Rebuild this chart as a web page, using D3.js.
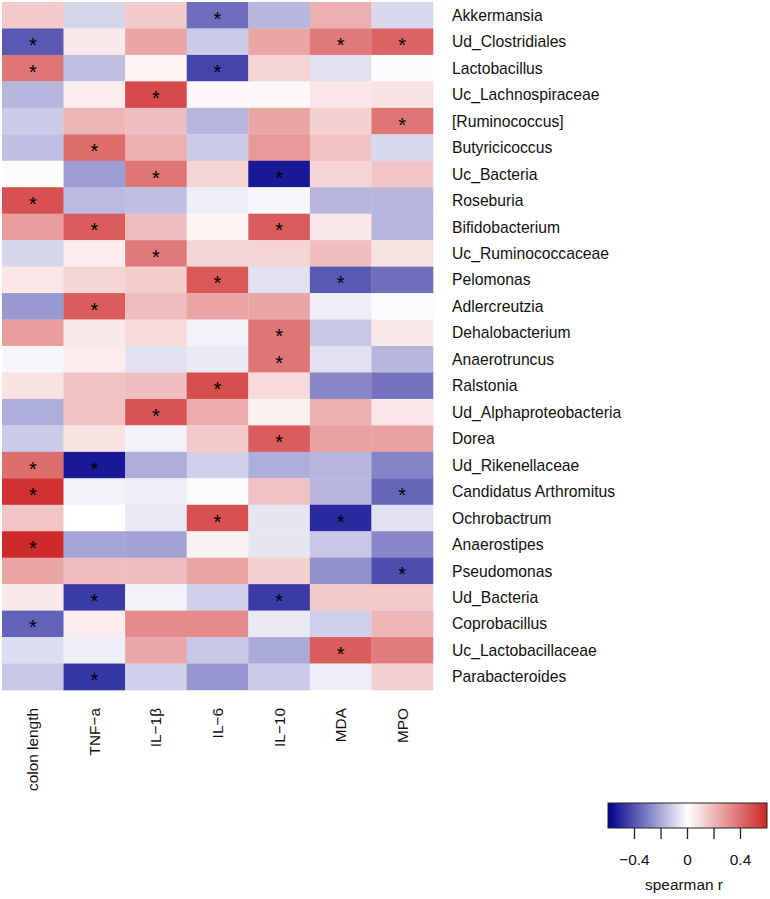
<!DOCTYPE html>
<html>
<head>
<meta charset="utf-8">
<script src="https://cdn.jsdelivr.net/npm/d3@7"></script>
<style>
  html, body { margin: 0; padding: 0; background: #fff; }
  svg { display: block; font-family: "Liberation Sans", Arial, Helvetica, sans-serif; }
</style>
</head>
<body>
<svg id="chart" width="770" height="899"></svg>
<script>
// ---------------- data ----------------
const taxa = ["Akkermansia","Ud_Clostridiales","Lactobacillus","Uc_Lachnospiraceae","[Ruminococcus]",
  "Butyricicoccus","Uc_Bacteria","Roseburia","Bifidobacterium","Uc_Ruminococcaceae","Pelomonas",
  "Adlercreutzia","Dehalobacterium","Anaerotruncus","Ralstonia","Ud_Alphaproteobacteria","Dorea",
  "Ud_Rikenellaceae","Candidatus Arthromitus","Ochrobactrum","Anaerostipes","Pseudomonas",
  "Ud_Bacteria","Coprobacillus","Uc_Lactobacillaceae","Parabacteroides"];
const indices = ["colon length","TNF\u2212a","IL\u22121\u03b2","IL\u22126","IL\u221210","MDA","MPO"];

// spearman r, one array per index (rows in taxa order)
const colonLength = [0.15,-0.39,0.38,-0.17,-0.12,-0.15,0.01,0.48,0.27,-0.10,0.07,-0.24,0.27,-0.02,0.08,-0.19,-0.12,0.40,0.57,0.16,0.59,0.25,0.06,-0.37,-0.08,-0.13];
const tnfA        = [-0.10,0.06,-0.15,0.05,0.20,0.40,-0.23,-0.16,0.45,0.05,0.12,0.45,0.06,0.05,0.17,0.17,0.08,-0.54,-0.03,0.00,-0.21,0.18,-0.46,0.05,-0.04,-0.47];
const il1b        = [0.15,0.25,0.03,0.50,0.18,0.22,0.38,-0.15,0.18,0.37,0.14,0.18,0.10,-0.07,0.18,0.47,-0.03,-0.19,-0.04,-0.05,-0.22,0.18,-0.03,0.32,0.24,-0.11];
const il6         = [-0.34,-0.12,-0.44,0.02,-0.17,-0.12,0.12,-0.04,0.03,0.12,0.46,0.25,-0.03,-0.05,0.49,0.23,0.15,-0.11,-0.01,0.48,0.04,0.25,-0.11,0.32,-0.13,-0.25];
const il10        = [-0.17,0.25,0.12,0.02,0.25,0.28,-0.54,-0.02,0.45,0.12,-0.07,0.25,0.38,0.38,0.10,0.04,0.45,-0.19,0.17,-0.06,-0.06,0.13,-0.46,-0.05,-0.20,-0.12];
const mda         = [0.22,0.37,-0.07,0.07,0.13,0.17,0.12,-0.17,0.06,0.18,-0.39,-0.04,-0.13,-0.07,-0.28,0.22,0.26,-0.17,-0.17,-0.50,-0.13,-0.26,0.15,-0.11,0.45,-0.04];
const mpo         = [-0.09,0.43,0.01,0.08,0.38,-0.09,0.16,-0.17,-0.17,0.08,-0.34,-0.01,0.06,-0.17,-0.33,0.07,0.26,-0.29,-0.36,-0.07,-0.28,-0.42,0.15,0.20,0.36,0.13];

// significance (1 = *), one array per index
const sigColon = [0,1,1,0,0,0,0,1,0,0,0,0,0,0,0,0,0,1,1,0,1,0,0,1,0,0];
const sigTnf   = [0,0,0,0,0,1,0,0,1,0,0,1,0,0,0,0,0,1,0,0,0,0,1,0,0,1];
const sigIl1b  = [0,0,0,1,0,0,1,0,0,1,0,0,0,0,0,1,0,0,0,0,0,0,0,0,0,0];
const sigIl6   = [1,0,1,0,0,0,0,0,0,0,1,0,0,0,1,0,0,0,0,1,0,0,0,0,0,0];
const sigIl10  = [0,0,0,0,0,0,1,0,1,0,0,0,1,1,0,0,1,0,0,0,0,0,1,0,0,0];
const sigMda   = [0,1,0,0,0,0,0,0,0,0,1,0,0,0,0,0,0,0,0,1,0,0,0,0,1,0];
const sigMpo   = [0,1,0,0,1,0,0,0,0,0,0,0,0,0,0,0,0,0,1,0,0,1,0,0,0,0];

const legendTicks = [-0.4,-0.2,0,0.2,0.4];
const legendLabels = ["\u22120.4","","0","","0.4"];
const legendTitle = "spearman r";

// ---------------- build ----------------
const seriesVals = [colonLength,tnfA,il1b,il6,il10,mda,mpo];
const seriesSig = [sigColon,sigTnf,sigIl1b,sigIl6,sigIl10,sigMda,sigMpo];
const cells = [];
indices.forEach((ind, j) => taxa.forEach((t, i) => cells.push({t, ind, v: seriesVals[j][i], s: seriesSig[j][i]})));

const svg = d3.select("#chart");
const gLeft = 2, gRight = 433, gTop = 2, gBottom = 690;
const x = d3.scaleBand().domain(indices).range([gLeft, gRight]);
const y = d3.scaleBand().domain(taxa).range([gTop, gBottom]);
const color = d3.scaleLinear().domain([-0.6, 0, 0.6]).range(["#00008B", "#FFFFFF", "#CD2626"]).clamp(true);

svg.append("g").selectAll("rect").data(cells).join("rect")
  .attr("x", d => x(d.ind)).attr("y", d => y(d.t))
  .attr("width", x.bandwidth() + 0.3).attr("height", y.bandwidth() + 0.3)
  .attr("fill", d => color(d.v));

svg.append("g").selectAll("text").data(cells.filter(d => d.s)).join("text")
  .attr("x", d => x(d.ind) + x.bandwidth() / 2)
  .attr("y", d => y(d.t) + y.bandwidth() / 2 + 10.5)
  .attr("text-anchor", "middle").attr("font-size", 20).attr("fill", "#000")
  .text("*");

// row labels
svg.append("g").selectAll("text").data(taxa).join("text")
  .attr("x", 452).attr("y", d => y(d) + y.bandwidth() / 2)
  .attr("dy", "0.36em").attr("font-size", 15.7).attr("fill", "#111")
  .text(d => d);

// column labels
svg.append("g").selectAll("text").data(indices).join("text")
  .attr("transform", d => `translate(${x(d) + x.bandwidth() / 2 + 5.5},708) rotate(-90)`)
  .attr("text-anchor", "end").attr("font-size", 15.4).attr("fill", "#111")
  .text(d => d);

// legend
const lx = d3.scaleLinear().domain([-0.6, 0.6]).range([608, 767]);
const defs = svg.append("defs");
const grad = defs.append("linearGradient").attr("id", "lg").attr("x1", "0%").attr("x2", "100%");
d3.range(0, 1.0001, 0.05).forEach(p => {
  grad.append("stop").attr("offset", (p * 100) + "%").attr("stop-color", color(-0.6 + 1.2 * p));
});
svg.append("rect").attr("x", lx(-0.6)).attr("y", 803).attr("width", lx(0.6) - lx(-0.6)).attr("height", 25)
  .attr("fill", "url(#lg)").attr("stroke", "#222").attr("stroke-width", 1);
const lg = svg.append("g");
lg.selectAll("line").data(legendTicks).join("line")
  .attr("x1", d => lx(d)).attr("x2", d => lx(d)).attr("y1", 828).attr("y2", 839)
  .attr("stroke", "#222").attr("stroke-width", 1.3);
lg.selectAll("text").data(legendTicks).join("text")
  .attr("x", d => lx(d)).attr("y", 865).attr("text-anchor", "middle").attr("font-size", 15.4).attr("fill", "#111")
  .text((d, i) => legendLabels[i]);
svg.append("text").attr("x", 684).attr("y", 890).attr("text-anchor", "middle").attr("font-size", 15.4).attr("fill", "#111")
  .text(legendTitle);
</script>
</body>
</html>
